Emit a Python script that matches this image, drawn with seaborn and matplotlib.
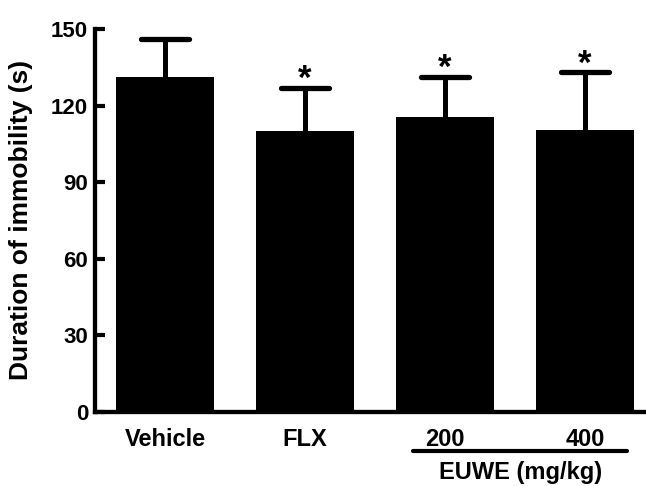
import matplotlib
matplotlib.use("Agg")
import matplotlib.pyplot as plt
import matplotlib.transforms as mtransforms
from matplotlib.markers import MarkerStyle
import numpy as np
import pandas as pd
import seaborn as sns

# ---- data ----
groups = ["Vehicle", "FLX", "200", "400"]
mean_immobility = [131.0, 110.0, 115.7, 110.5]
sem_immobility = [15.0, 17.0, 15.5, 22.5]
significant = [False, True, True, True]
y_ticks = [0, 30, 60, 90, 120, 150]
y_label = "Duration of immobility (s)"
group_label = "EUWE (mg/kg)"

sns.set_style("ticks")
plt.rcParams["font.family"] = ["Liberation Sans", "DejaVu Sans"]
plt.rcParams["font.weight"] = "bold"
for key in ["text.color", "axes.labelcolor", "xtick.color", "ytick.color",
            "axes.edgecolor"]:
    plt.rcParams[key] = "black"

fig = plt.figure(figsize=(6.46, 4.86), dpi=100)
ax = fig.add_axes([95 / 646, 74.3 / 486, 560 / 646, 382.7 / 486])

df = pd.DataFrame({"group": groups, "duration": mean_immobility})
sns.barplot(data=df, x="group", y="duration", color="black", saturation=1,
            width=0.7, errorbar=None, linewidth=0, ax=ax)
for p in ax.patches:
    p.set_zorder(3)

pos = np.arange(len(groups))
means = np.array(mean_immobility)
sems = np.array(sem_immobility)
eb = ax.errorbar(pos, means, yerr=sems, fmt="none",
                 ecolor="black", elinewidth=3.6, capsize=17.5, capthick=3.8,
                 zorder=2)
for cap in eb[1]:
    cap.set_marker(MarkerStyle("_", capstyle="round"))

for x, m, s, sig in zip(pos, means, sems, significant):
    if sig:
        ax.annotate("*", xy=(x, m + s), xytext=(0, -1), textcoords="offset points",
                    ha="center", va="baseline", fontsize=25, fontweight="bold")

ax.set_xlim(-0.5, 3.5)
ax.set_ylim(0, 150)
ax.set_yticks(y_ticks)
ax.tick_params(axis="y", direction="in", length=7, width=3, labelsize=16, pad=5)
ax.tick_params(axis="x", length=0, labelsize=17, pad=12)
for lbl in ax.get_xticklabels() + ax.get_yticklabels():
    lbl.set_fontweight("bold")
ax.set_xlabel("")
ax.set_ylabel(y_label, fontsize=19, fontweight="bold")
ax.yaxis.set_label_coords(-0.111, 0.5)

for side in ["top", "right"]:
    ax.spines[side].set_visible(False)
for side in ["left", "bottom"]:
    ax.spines[side].set_linewidth(3.1)
    ax.spines[side].set_zorder(4)

trans = mtransforms.blended_transform_factory(ax.transData, ax.transAxes)
ax.plot([pos[2] - 0.23, pos[3] + 0.30], [-0.1027, -0.1027], color="black",
        lw=3, transform=trans, clip_on=False, solid_capstyle="round")
ax.text((pos[2] + pos[3]) / 2 + 0.04, -0.158, group_label, transform=trans,
        ha="center", va="center", fontsize=17, fontweight="bold")

fig.savefig("out.png", dpi=100)
